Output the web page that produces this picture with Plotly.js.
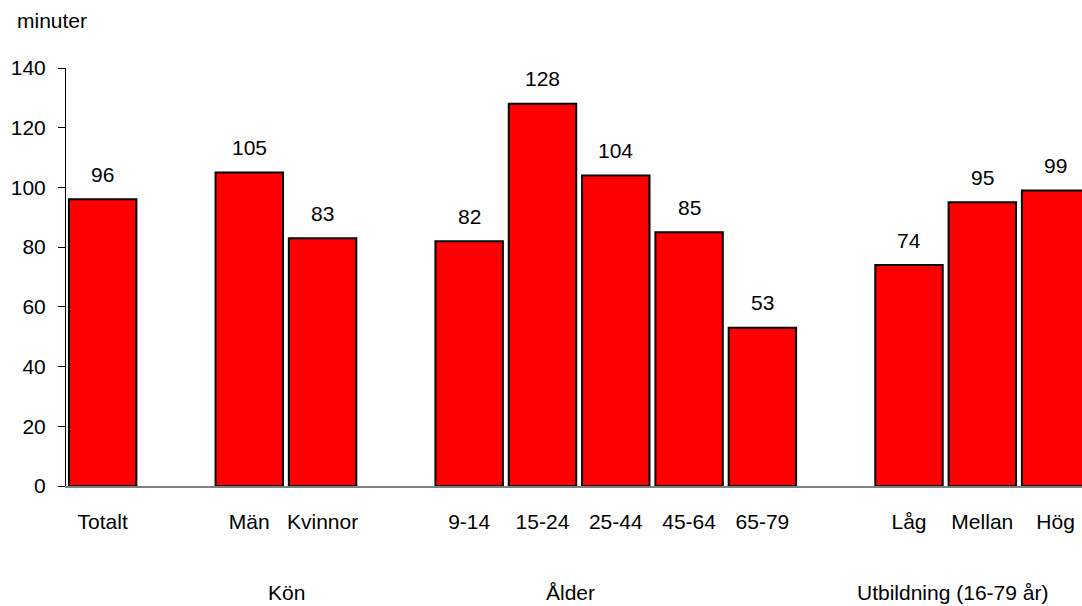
<!DOCTYPE html>
<html>
<head>
<meta charset="utf-8">
<script src="https://cdn.plot.ly/plotly-3.0.1.min.js"></script>
<style>html,body{margin:0;padding:0;background:#fff;}#chart{width:1082px;height:606px;}</style>
</head>
<body>
<div id="chart"></div>
<script>
const categories = ['Totalt', 'Män', 'Kvinnor', '9-14', '15-24', '25-44', '45-64', '65-79', 'Låg', 'Mellan', 'Hög'];
const values = [96, 105, 83, 82, 128, 104, 85, 53, 74, 95, 99];
const groupOf = ['Totalt', 'Kön', 'Kön', 'Ålder', 'Ålder', 'Ålder', 'Ålder', 'Ålder', 'Utbildning (16-79 år)', 'Utbildning (16-79 år)', 'Utbildning (16-79 år)'];
const groupLabels = ['Kön', 'Ålder', 'Utbildning (16-79 år)'];
const yTicks = [0, 20, 40, 60, 80, 100, 120, 140];
const yUnit = 'minuter';

// category order with a blank slot between groups
const order = [];
let gap = 0;
categories.forEach((c, i) => {
  if (i > 0 && groupOf[i] !== groupOf[i - 1]) { gap++; order.push(' '.repeat(gap)); }
  order.push(c);
});

const FONT = 'Liberation Sans, Arial, sans-serif';
const FS = 21;

const trace = {
  type: 'bar',
  x: categories,
  y: values,
  width: 0.92,
  marker: { color: '#FF0000', line: { color: '#000000', width: 2 } },
  hoverinfo: 'x+y'
};

const annotations = values.map((v, i) => ({
  x: categories[i], y: v, xref: 'x', yref: 'y',
  text: String(v), showarrow: false,
  yanchor: 'middle', yshift: 25,
  font: { family: FONT, size: FS, color: '#000' }
}));

const groupX = { 'Kön': 2.51, 'Ålder': 6.38, 'Utbildning (16-79 år)': 11.59 };
groupLabels.forEach(g => {
  annotations.push({
    x: groupX[g], y: -0.255, xref: 'x', yref: 'paper',
    text: g, showarrow: false, xanchor: 'center', yanchor: 'middle',
    font: { family: FONT, size: FS, color: '#000' }
  });
});
annotations.push({
  x: (15 - 66) / (1082 - 66), y: 1 + (68 - 20) / 418, xref: 'paper', yref: 'paper',
  text: yUnit, showarrow: false, xanchor: 'left', yanchor: 'middle',
  font: { family: FONT, size: FS, color: '#000' }
});

const layout = {
  width: 1082, height: 606,
  margin: { l: 66, r: 0, t: 68, b: 120, pad: 0 },
  paper_bgcolor: '#fff', plot_bgcolor: '#fff',
  showlegend: false,
  font: { family: FONT, size: FS, color: '#000' },
  xaxis: {
    type: 'category', categoryorder: 'array', categoryarray: order,
    range: [-0.5, 13.36],
    showline: true, linecolor: '#808080', linewidth: 2,
    ticks: '', showgrid: false, zeroline: false,
    ticklabelstandoff: 16,
    tickfont: { family: FONT, size: FS, color: '#000' }
  },
  yaxis: {
    range: [0, 140], tickvals: yTicks, ticktext: yTicks.map(String),
    showline: true, linecolor: '#000', linewidth: 1,
    ticks: 'outside', ticklen: 7, tickcolor: '#000', tickwidth: 1,
    showgrid: false, zeroline: false,
    ticklabelstandoff: 8,
    tickfont: { family: FONT, size: FS, color: '#000' }
  },
  annotations: annotations
};

Plotly.newPlot('chart', [trace], layout, { displayModeBar: false, staticPlot: true });
</script>
</body>
</html>
